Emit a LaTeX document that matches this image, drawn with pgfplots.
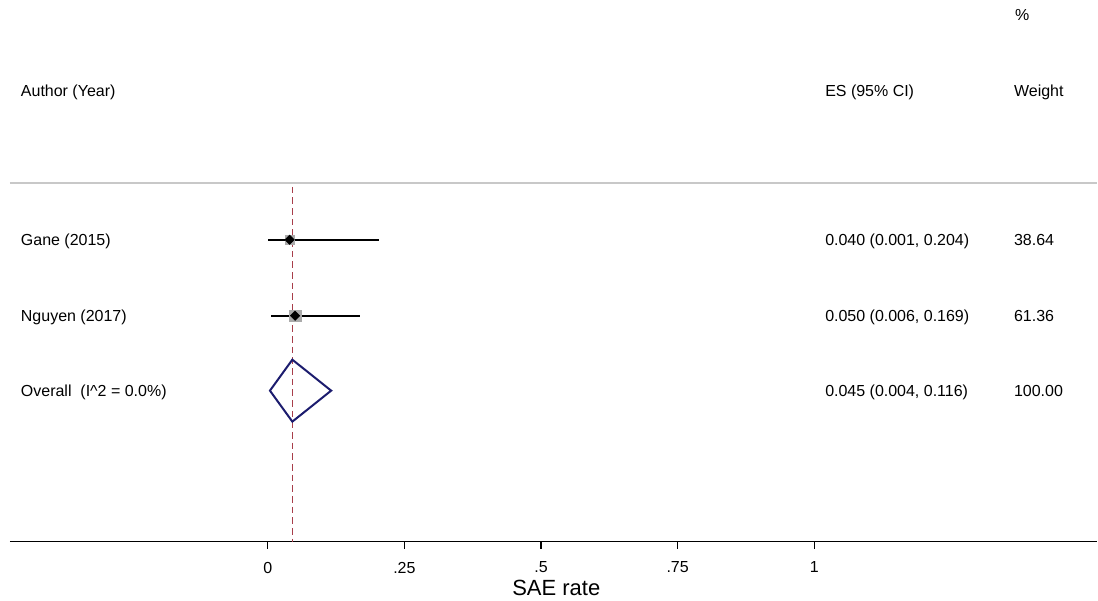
\documentclass[border=0pt]{standalone}
\usepackage{fontspec}
\setmainfont{Liberation Sans}
\usepackage{pgfplots}
\pgfplotsset{compat=1.18}
\definecolor{refred}{RGB}{168,62,74}
\definecolor{navyd}{RGB}{28,28,110}
\definecolor{boxgray}{RGB}{170,170,170}
\definecolor{sepgray}{RGB}{200,200,200}
\tikzset{lbl/.style={anchor=base west, inner sep=0pt, outer sep=0pt, font=\fontsize{12}{14}\selectfont}}
\begin{document}
\begin{tikzpicture}[x=1pt,y=1pt]
\begin{axis}[
  scale only axis,
  width=816pt, height=406.5pt,
  xmin=-0.47166, xmax=1.51737,
  ymin=-542, ymax=0,
  axis x line*=bottom,
  axis y line=none,
  axis line style={-, line width=1.1pt, black},
  xtick={0,0.25,0.5,0.75,1},
  xticklabels={0,.25,.5,.75,1},
  tick align=outside,
  major tick length=5.25pt,
  every tick/.style={black, line width=1.1pt},
  xticklabel style={font=\fontsize{12}{14}\selectfont, yshift=-6.5pt},
  xlabel={SAE rate},
  every axis x label/.style={at={(axis cs:0.528,-588)}, anchor=center, font=\fontsize{16.5}{18}\selectfont},
  clip=false,
]
% separator line
\addplot[sepgray, line width=1.5pt] coordinates {(-0.47166,-183) (1.51737,-183)};
% reference (pooled) line
\addplot[refred, line width=1.2pt, dash pattern=on 5pt off 3pt] coordinates {(0.045,-187) (0.045,-542)};
% confidence intervals
\addplot[black, line width=1.4pt] coordinates {(0.001,-240) (0.204,-240)};
\addplot[black, line width=1.4pt] coordinates {(0.006,-316) (0.169,-316)};
% weight boxes
\addplot[only marks, mark=square*, mark size=3.6pt, boxgray, mark options={draw=none, fill=boxgray}] coordinates {(0.040,-240)};
\addplot[only marks, mark=square*, mark size=4.4pt, boxgray, mark options={draw=none, fill=boxgray}] coordinates {(0.050,-316)};
% point estimates
\addplot[only marks, mark=square*, mark size=2.5pt, black, mark options={rotate=45}] coordinates {(0.040,-240) (0.050,-316)};
% overall diamond
\addplot[navyd, line width=1.5pt, line join=miter] coordinates {(0.004,-391) (0.045,-360) (0.116,-391) (0.045,-422) (0.004,-391)} -- cycle;
% texts
\path (axis cs:1.3675,-20.5) node[lbl] {\%};
\path (axis cs:-0.4516,-96.5) node[lbl] {Author (Year)};
\path (axis cs:1.0201,-96.5) node[lbl] {ES (95\% CI)};
\path (axis cs:1.3656,-96.5) node[lbl] {Weight};
\path (axis cs:-0.4516,-245.5) node[lbl] {Gane (2015)};
\path (axis cs:1.0201,-245.5) node[lbl] {0.040 (0.001, 0.204)};
\path (axis cs:1.3656,-245.5) node[lbl] {38.64};
\path (axis cs:-0.4516,-321.5) node[lbl] {Nguyen (2017)};
\path (axis cs:1.0201,-321.5) node[lbl] {0.050 (0.006, 0.169)};
\path (axis cs:1.3656,-321.5) node[lbl] {61.36};
\path (axis cs:-0.4516,-396.5) node[lbl] {Overall\ \ (I\^{}2 = 0.0\%)};
\path (axis cs:1.0201,-396.5) node[lbl] {0.045 (0.004, 0.116)};
\path (axis cs:1.3656,-396.5) node[lbl] {100.00};
% bounding box
\path (axis cs:-0.48995,0) (axis cs:1.51737,-601);
\end{axis}
\end{tikzpicture}
\end{document}
